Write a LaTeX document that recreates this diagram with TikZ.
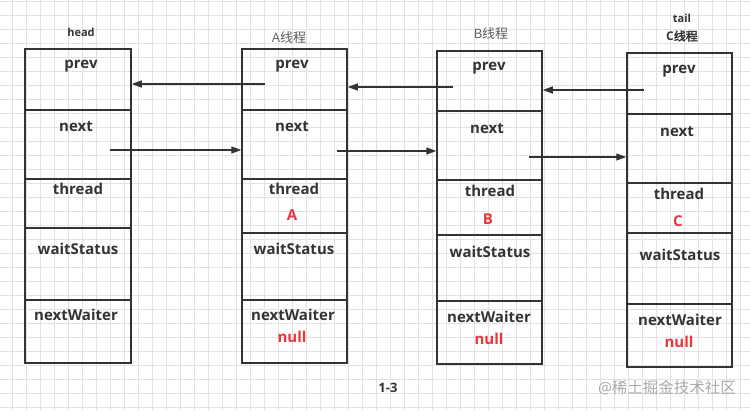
\documentclass[tikz,border=0pt]{standalone}
\usepackage{fontspec}
\setmainfont{Open Sans}
\newfontfamily\cjk[AutoFakeBold=2.5]{Noto Sans CJK SC}
\usetikzlibrary{arrows.meta}
\definecolor{ink}{RGB}{51,51,51}
\definecolor{threadred}{RGB}{236,52,60}
\definecolor{gridgray}{RGB}{226,226,226}
\definecolor{wmgray}{RGB}{170,170,170}

\tikzset{
	nodebox/.style={draw=ink, line width=1.5pt, minimum width=105pt, minimum height=314pt, inner sep=0pt},
	divider/.style={draw=ink, line width=1.5pt},
	field/.style={text=ink, font=\fontsize{15}{15}\selectfont\bfseries, inner sep=0pt},
	value/.style={text=threadred, font=\fontsize{15}{15}\selectfont\bfseries, inner sep=0pt},
	title/.style={text=ink, inner sep=0pt},
	link/.style={draw=ink, line width=1.3pt, -{Triangle[length=10pt,width=7pt]}},
	gridline/.style={draw=gridgray, line width=0.8pt}
}

\begin{document}
\begin{tikzpicture}[x=1pt, y=-1pt]
	\useasboundingbox (0,0) rectangle (750,410);
	\fill[white] (0,0) rectangle (750,410);
	% background grid
	\foreach \i in {0,...,52}
		\draw[gridline] ({12.7+14*\i},0) -- ++(0,410);
	\foreach \j in {0,...,29}
		\draw[gridline] (0,{1.3+14*\j}) -- ++(750,0);
	
	% the four nodes of the queue
	\node[nodebox, minimum width=106pt] (head) at (78,206) {};
	\node[nodebox] (nodeA) at (294.5,206) {};
	\node[nodebox, minimum height=313pt] (nodeB) at (489.5,207.5) {};
	\node[nodebox] (nodeC) at (679.5,210) {};
	
	\draw[divider] (head.west |- 0,110) -- (head.east |- 0,110);
	\draw[divider] (head.west |- 0,179) -- (head.east |- 0,179);
	\draw[divider] (head.west |- 0,228) -- (head.east |- 0,228);
	\draw[divider] (head.west |- 0,300) -- (head.east |- 0,300);
	
	\draw[divider] (nodeA.west |- 0,110) -- (nodeA.east |- 0,110);
	\draw[divider] (nodeA.west |- 0,179) -- (nodeA.east |- 0,179);
	\draw[divider] (nodeA.west |- 0,233) -- (nodeA.east |- 0,233);
	\draw[divider] (nodeA.west |- 0,300) -- (nodeA.east |- 0,300);
	
	\draw[divider] (nodeB.west |- 0,111) -- (nodeB.east |- 0,111);
	\draw[divider] (nodeB.west |- 0,180) -- (nodeB.east |- 0,180);
	\draw[divider] (nodeB.west |- 0,235) -- (nodeB.east |- 0,235);
	\draw[divider] (nodeB.west |- 0,301) -- (nodeB.east |- 0,301);
	
	\draw[divider] (nodeC.west |- 0,114) -- (nodeC.east |- 0,114);
	\draw[divider] (nodeC.west |- 0,183) -- (nodeC.east |- 0,183);
	\draw[divider] (nodeC.west |- 0,233) -- (nodeC.east |- 0,233);
	\draw[divider] (nodeC.west |- 0,304) -- (nodeC.east |- 0,304);
	
	% titles
	\node[title, font=\fontsize{11}{11}\selectfont\bfseries] (headtitle) at (81,32) {head};
	\node[title, text=ink!80, font=\fontsize{13}{13}\selectfont] (titleA) at (289,38) {A\cjk 线程};
	\node[title, text=ink!80, font=\fontsize{13}{13}\selectfont] (titleB) at (491,34) {B\cjk 线程};
	\node[title, font=\fontsize{11}{11}\selectfont\bfseries] (tailtitle) at (682,18) {tail};
	\node[title, font=\fontsize{12}{12}\selectfont\bfseries] (titleC) at (682,36) {C\cjk 线程};
	
	% fields
	\node[field] (hprev) at (81,66) {prev};
	\node[field] (hnext) at (76,127) {next};
	\node[field] (hthread) at (78,189) {thread};
	\node[field] (hwait) at (78,249) {waitStatus};
	\node[field] (hwaiter) at (76,315) {nextWaiter};
	
	\node[field] (aprev) at (292,66) {prev};
	\node[field] (anext) at (292,127) {next};
	\node[field] (athread) at (294,189) {thread};
	\node[value] (aval) at (292,215) {A};
	\node[field] (await) at (294,249) {waitStatus};
	\node[field] (awaiter) at (293,315) {nextWaiter};
	\node[value] (anull) at (292,337) {null};
	
	\node[field] (bprev) at (489,68) {prev};
	\node[field] (bnext) at (487,129) {next};
	\node[field] (bthread) at (490,191) {thread};
	\node[value] (bval) at (488,219) {B};
	\node[field] (bwait) at (490,252) {waitStatus};
	\node[field] (bwaiter) at (489,317) {nextWaiter};
	\node[value] (bnull) at (489,339) {null};
	
	\node[field] (cprev) at (679,71) {prev};
	\node[field] (cnext) at (677,132) {next};
	\node[field] (cthread) at (679,194) {thread};
	\node[value] (cval) at (678,221) {C};
	\node[field] (cwait) at (680,255) {waitStatus};
	\node[field] (cwaiter) at (680,320) {nextWaiter};
	\node[value] (cnull) at (679,342) {null};
	
	% prev / next pointers
	\coordinate (aprevout) at (265,84);
	\coordinate (bprevout) at (453,87);
	\coordinate (cprevout) at (644,90);
	\coordinate (hnextout) at (110,150);
	\coordinate (anextout) at (337,151);
	\coordinate (bnextout) at (529,157);
	
	\draw[link] (aprevout) -- (aprevout -| head.east);
	\draw[link] (bprevout) -- (bprevout -| nodeA.east);
	\draw[link] (cprevout) -- (cprevout -| nodeB.east);
	\draw[link] (hnextout) -- (hnextout -| nodeA.west);
	\draw[link] (anextout) -- (anextout -| nodeB.west);
	\draw[link] (bnextout) -- (bnextout -| nodeC.west);
	
	% caption and watermark
	\node[title, font=\fontsize{13}{13}\selectfont\bfseries] (caption) at (388,388) {1-3};
	\node[title, text=wmgray, font=\fontsize{15.5}{15.5}\selectfont] (watermark) at (667,388) {@\cjk 稀土掘金技术社区};
\end{tikzpicture}
\end{document}
